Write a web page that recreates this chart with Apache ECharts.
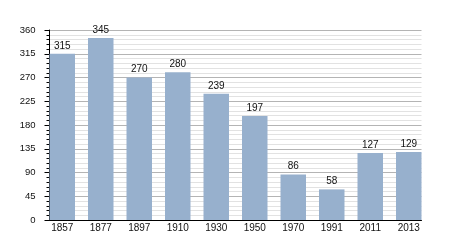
<!DOCTYPE html>
<html><head><meta charset="utf-8">
<script src="https://cdn.jsdelivr.net/npm/echarts@6/dist/echarts.min.js"></script>
<style>html,body{margin:0;padding:0;background:#fff}#c{width:450px;height:250px}</style>
</head><body><div id="c"></div>
<script>
var categories = ['1857','1877','1897','1910','1930','1950','1970','1991','2011','2013'];
var values = [315, 345, 270, 280, 239, 197, 86, 58, 127, 129];
var yTicks = [0, 45, 90, 135, 180, 225, 270, 315, 360];

var chart = echarts.init(document.getElementById('c'), null, {renderer: 'canvas'});
var font = 'Liberation Sans, Arial, sans-serif';
chart.setOption({
  animation: false,
  backgroundColor: '#ffffff',
  grid: [
    {left: 49.5, right: 28.5, top: 30, bottom: 30},
    {left: 43, right: 22, top: 30, bottom: 30}
  ],
  xAxis: [
    {gridIndex: 0, type: 'category', data: categories, boundaryGap: true,
     axisLine: {show: true, lineStyle: {color: '#000', width: 1}},
     axisTick: {show: false}, axisLabel: {show: false}, splitLine: {show: false}},
    {gridIndex: 1, type: 'category', data: categories, boundaryGap: true,
     axisLine: {show: false}, axisTick: {show: false},
     axisLabel: {show: true, margin: 3, fontSize: 10, color: '#111', fontFamily: font, interval: 0},
     splitLine: {show: false}}
  ],
  yAxis: [
    {gridIndex: 0, type: 'value', min: yTicks[0], max: yTicks[yTicks.length - 1], interval: 45,
     axisLine: {show: true, lineStyle: {color: '#000', width: 1}},
     axisTick: {show: true, inside: false, length: 5, lineStyle: {color: '#000'}},
     minorTick: {show: true, splitNumber: 5, length: 3, lineStyle: {color: '#000'}},
     axisLabel: {margin: 14, fontSize: 9.5, color: '#111', fontFamily: font},
     splitLine: {show: true, lineStyle: {color: '#b4b4b4', width: 1}},
     minorSplitLine: {show: true, lineStyle: {color: '#e2e2e2', width: 1}}},
    {gridIndex: 1, type: 'value', min: yTicks[0], max: yTicks[yTicks.length - 1], interval: 45,
     show: false}
  ],
  series: [{
    type: 'bar', xAxisIndex: 1, yAxisIndex: 1, data: values, barWidth: 25.5,
    itemStyle: {color: '#97b0cd'},
    label: {show: true, position: 'top', distance: 3, fontSize: 10, color: '#111', fontFamily: font}
  }]
});
</script></body></html>
